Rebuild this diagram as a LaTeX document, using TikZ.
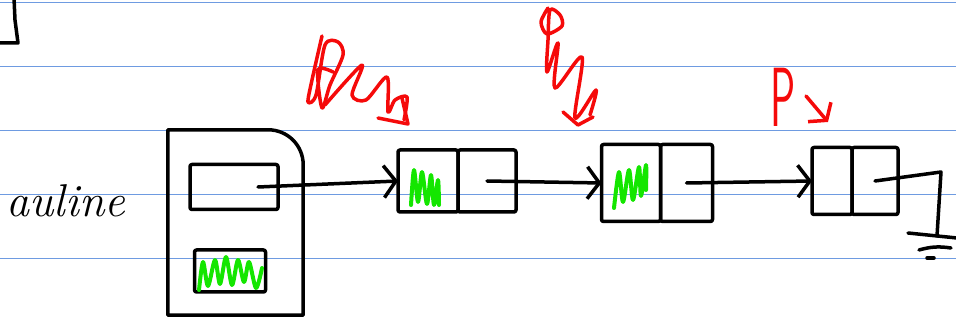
\documentclass[tikz,border=0pt]{standalone}
\usetikzlibrary{positioning, arrows.meta}

\definecolor{ruleblue}{RGB}{110,155,225}
\definecolor{pengreen}{RGB}{20,230,0}
\definecolor{penred}{RGB}{245,10,10}

\tikzset{
	hand/.style={line width=3.5pt, line cap=round, line join=round},
	rule/.style={draw=ruleblue, line width=1pt},
	cell/.style={draw, hand, inner sep=0pt, outer sep=0pt, rounded corners=2pt},
	link/.style={hand, -{Straight Barb[length=12pt, width=32pt, line width=3.5pt]}},
	redpen/.style={draw=penred, line width=3.5pt, line cap=round, line join=round},
	greenpen/.style={draw=pengreen, line width=4pt, line cap=round, line join=round}
}

\begin{document}
\begin{tikzpicture}[x=1pt, y=-1pt]
	\useasboundingbox (0,0) rectangle (956,320);
	\foreach \y in {3,67,131,195,259}
		\draw[rule] (0,\y) -- (956,\y);
	
	% leftover of the previous sketch
	\draw[hand] (14,-2) -- (15,20) -- (18,43) -- (-2,43);
	
	\node[font=\fontsize{46}{48}\selectfont\itshape] (label) at (66,201) {auline};
	
	% the head struct
	\node[minimum width=135pt, minimum height=185pt] (head) at (235.5,222.5) {};
	\draw[hand] (head.north west) -- ([xshift=-35pt]head.north east)
		to[out=0, in=90] ([yshift=-35pt]head.north east) -- (head.south east)
		-- (head.south west) -- cycle;
	\node[cell, minimum width=88pt, minimum height=45pt] (ptr) at (234,187) {};
	\node[cell, minimum width=71pt, minimum height=42pt] (data) at (230,271) {};
	\draw[greenpen] plot[smooth, tension=0.5] coordinates {(199,290) (203,262) (208,286) (215,260) (220,284) (226,257) (232,285) (238,260) (244,282) (249,262) (256,288) (262,268)};
	
	% the list
	\node[cell, minimum width=60pt, minimum height=62pt] (n1a) at (428,181) {};
	\node[cell, minimum width=58pt, minimum height=62pt, right=0pt of n1a] (n1b) {};
	\node[cell, minimum width=59pt, minimum height=77pt] (n2a) at (631,183) {};
	\node[cell, minimum width=52pt, minimum height=77pt, right=0pt of n2a] (n2b) {};
	\node[cell, minimum width=40pt, minimum height=67pt] (n3a) at (832,181) {};
	\node[cell, minimum width=46pt, minimum height=67pt, right=0pt of n3a] (n3b) {};
	
	\draw[greenpen] plot[smooth, tension=0.5] coordinates {(411,205) (414,170) (418,202) (422,172) (427,204) (431,175) (434,205) (438,180) (439,205)};
	\draw[greenpen] plot[smooth, tension=0.5] coordinates {(614,208) (619,172) (623,202) (629,170) (633,200) (639,167) (641,196) (646,165) (646,190)};
	
	\draw[link] ([xshift=24pt]ptr.center) -- (n1a.west);
	\draw[link] (n1b.center) -- (n2a.west);
	\draw[link] (n2b.center) -- (n3a.west);
	
	% null at the end
	\coordinate (gnd) at (937,236);
	\draw[hand] (n3b.center) -- (941,172) -- (gnd);
	\draw[hand] ([xshift=-29pt, yshift=3pt]gnd) -- ([xshift=20pt, yshift=-2pt]gnd);
	\draw[hand] ([xshift=-18pt, yshift=-14pt]gnd) to[bend left=12] ([xshift=14pt, yshift=-12pt]gnd);
	\draw[hand] ([xshift=-10pt, yshift=-22pt]gnd) -- ([xshift=-3pt, yshift=-22pt]gnd);
	
	% pointers in red
	\draw[redpen] plot[smooth, tension=0.5] coordinates {(322,36) (312,80) (308,102) (316,95) (325,45) (338,42) (343,55) (330,85) (322,108) (318,70) (333,72)};
	\draw[redpen] plot[smooth, tension=0.5] coordinates {(325,105) (362,65) (352,95) (366,100) (387,77) (388,112) (395,100) (407,97) (404,120)};
	\draw[redpen] (378,118) -- (408,124) -- (402,98);
	
	\draw[redpen] plot[smooth, tension=0.5] coordinates {(548,8) (541,22) (547,34) (562,26) (560,15) (550,10) (548,40) (547,72) (558,43) (555,88) (582,57) (575,118) (596,90) (590,115)};
	\draw[redpen] (563,112) -- (578,125) -- (593,117);
	
	\node[text=penred, font=\fontsize{84}{84}\selectfont\sffamily] (ptag) at (783,97) {\scalebox{0.5}[1]{P}};
	\draw[redpen, -{Straight Barb[length=11pt, width=30pt, line width=3.5pt]}] (806,96) -- (828,122);
\end{tikzpicture}
\end{document}
